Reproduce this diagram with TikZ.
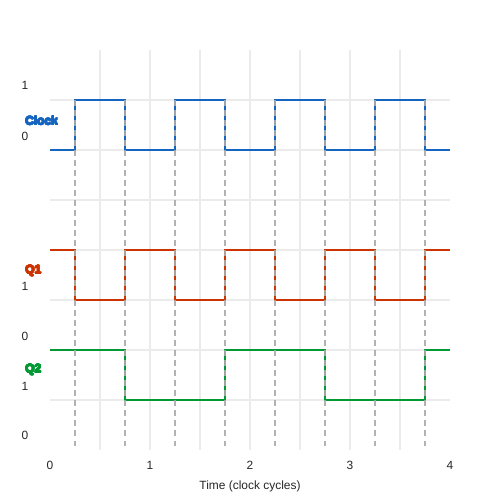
\documentclass[tikz,border=0pt]{standalone}
\usepackage{fontspec}
\setmainfont{Liberation Sans}
\usepackage{contour}
\contourlength{0.25pt}
\contournumber{16}
\usetikzlibrary{positioning}
\definecolor{clockblue}{HTML}{1565C0}
\definecolor{qonered}{HTML}{CC3300}
\definecolor{qtwogreen}{HTML}{009933}
\definecolor{gridgray}{HTML}{EBEBEB}
\definecolor{dashgray}{HTML}{AAAAAA}
\tikzset{
  gridline/.style={draw=gridgray, line width=1.1pt},
  edgeline/.style={draw=dashgray, line width=1.1pt, dash pattern=on 3.4pt off 2.3pt, opacity=0.9},
  clocksig/.style={draw=clockblue, line width=1.2pt},
  qonesig/.style={draw=qonered, line width=1.2pt},
  qtwosig/.style={draw=qtwogreen, line width=1.2pt},
  lvl/.style={font=\fontsize{6.8}{8}\selectfont, inner sep=0pt, text=black!85},
  siglabel/.style={font=\bfseries\fontsize{6.8}{8}\selectfont, anchor=west, inner sep=0pt}
}

\begin{document}
\begin{tikzpicture}[x=0.02cm, y=-0.02cm]
  \useasboundingbox (0,0) rectangle (500,500);
  % grid
  \foreach \x in {100,150,...,400} \draw[gridline] (\x,50) -- (\x,450);
  \foreach \y in {100,150,...,400} \draw[gridline] (50,\y) -- (450,\y);
  % signals
  \draw[clocksig] (50,150) \foreach \t in {75,175,275,375} { -- (\t,150) -- (\t,100) -- (\t+50,100) -- (\t+50,150) } -- (450,150);
  \draw[qonesig] (50,250) \foreach \t in {75,175,275,375} { -- (\t,250) -- (\t,300) -- (\t+50,300) -- (\t+50,250) } -- (450,250);
  \draw[qtwosig] (50,350) -- (125,350) -- (125,400) -- (225,400) -- (225,350) -- (325,350) -- (325,400) -- (425,400) -- (425,350) -- (450,350);
  % clock edges
  \foreach \x in {75,125,...,425} \draw[edgeline] (\x,100) -- (\x,450);
  % levels and names
  \node[lvl] (clockhi) at (25,85) {1};
  \node[lvl] (clocklo) at (25,136) {0};
  \node[siglabel, text=clockblue] (clockname) at (25,121) {\contour{clockblue}{Clock}};
  \node[lvl] (qonehi) at (25,286) {1};
  \node[lvl] (qonelo) at (25,336) {0};
  \node[siglabel, text=qonered] (qonename) at (25,271) {\contour{qonered}{Q1}};
  \node[lvl] (qtwohi) at (25,386) {1};
  \node[lvl] (qtwolo) at (25,435) {0};
  \node[siglabel, text=qtwogreen] (qtwoname) at (25,370) {\contour{qtwogreen}{Q2}};
  % time axis
  \foreach \i in {0,...,4} \node[lvl] (tick\i) at (50+100*\i,465) {\i};
  \node[lvl] (timelabel) at (250,486) {Time (clock cycles)};
\end{tikzpicture}
\end{document}
